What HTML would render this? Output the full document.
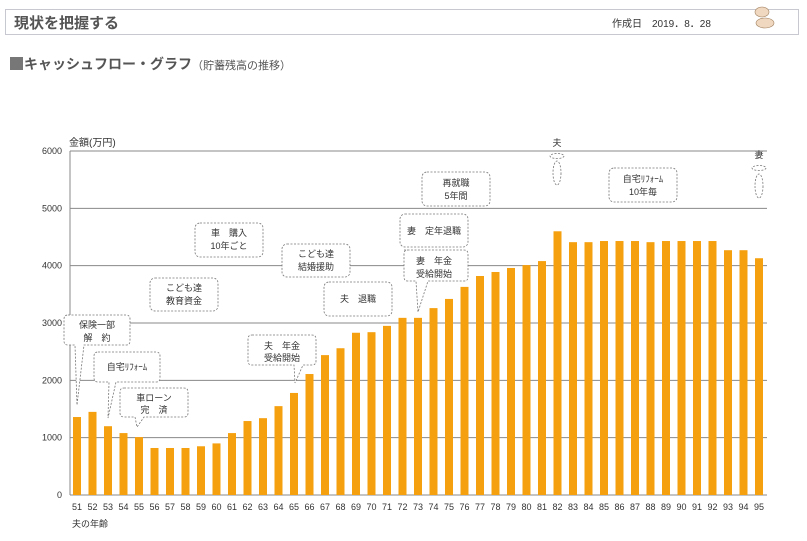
<!DOCTYPE html>
<html><head><meta charset="utf-8"><style>
body{margin:0;background:#fff;width:807px;height:536px;overflow:hidden;font-family:"Liberation Sans","Noto Sans CJK JP",sans-serif}
</style></head><body>
<svg id="s" width="807" height="536" xmlns="http://www.w3.org/2000/svg" font-family="Liberation Sans, Noto Sans CJK JP, sans-serif">
<rect x="5.5" y="9.5" width="793" height="25" fill="#fff" stroke="#c8c8d0"/>
<text x="14" y="28" font-size="15" font-weight="bold" fill="#555">現状を把握する</text>
<text x="612" y="27" font-size="10" fill="#333">作成日　2019．8．28</text>
<g fill="#f0d8c0" stroke="#a08060" stroke-width="0.6"><ellipse cx="762" cy="12" rx="7" ry="5"/><ellipse cx="765" cy="23" rx="9" ry="5"/></g>
<rect x="10" y="57" width="13" height="13" fill="#777"/>
<text x="24" y="69" font-size="14" font-weight="bold" fill="#555">キャッシュフロー・グラフ<tspan font-size="11" font-weight="normal">（貯蓄残高の推移）</tspan></text>
<text x="69" y="146" font-size="10" fill="#333">金額(万円)</text>
<g id="grid" stroke="#888" stroke-width="1"></g>
<g id="bars" fill="#f5a00f"></g>
<g id="lab" font-size="9" fill="#333"></g>
<text x="72" y="527" font-size="9" fill="#333">夫の年齢</text>
<g fill="#fff" stroke="#777" stroke-dasharray="2,1.5" stroke-width="0.8">
<path d="M68,315 h58 q4,0 4,4 v22 q0,4 -4,4 h-42 l-7,60 l-2,-60 h-7 q-4,0 -4,-4 v-22 q0,-4 4,-4z"/>
<path d="M98,352 h58 q4,0 4,4 v22 q0,4 -4,4 h-40 l-8,36 l1,-36 h-11 q-4,0 -4,-4 v-22 q0,-4 4,-4z"/>
<path d="M124,388 h60 q4,0 4,4 v21 q0,4 -4,4 h-40 l-7,10 l-2,-10 h-11 q-4,0 -4,-4 v-21 q0,-4 4,-4z"/>
<rect x="150" y="278" width="68" height="33" rx="5"/>
<rect x="195" y="223" width="68" height="34" rx="5"/>
<rect x="282" y="244" width="68" height="33" rx="5"/>
<path d="M252,335 h60 q4,0 4,4 v22 q0,4 -4,4 h-9 l-8,18 l-1,-18 h-42 q-4,0 -4,-4 v-22 q0,-4 4,-4z"/>
<rect x="324" y="282" width="68" height="34" rx="5"/>
<rect x="422" y="172" width="68" height="34" rx="5"/>
<rect x="400" y="214" width="68" height="33" rx="5"/>
<path d="M404,250 h60 q4,0 4,4 v23 q0,4 -4,4 h-36 l-10,31 l-2,-31 h-8 q-4,0 -4,-4 v-23 q0,-4 4,-4z"/>
<rect x="609" y="168" width="68" height="34" rx="5"/>
<ellipse cx="557" cy="156" rx="7" ry="2.5"/><ellipse cx="557" cy="173" rx="4" ry="12"/>
<ellipse cx="759" cy="168" rx="7" ry="2.5"/><ellipse cx="759" cy="186" rx="4" ry="12"/>
</g>
<g font-size="9" fill="#333" text-anchor="middle">
<text x="97" y="328">保険一部</text><text x="97" y="341">解　約</text>
<text x="127" y="370">自宅ﾘﾌｫｰﾑ</text>
<text x="154" y="401">車ローン</text><text x="154" y="413">完　済</text>
<text x="184" y="291">こども達</text><text x="184" y="304">教育資金</text>
<text x="229" y="236">車　購入</text><text x="229" y="249">10年ごと</text>
<text x="316" y="257">こども達</text><text x="316" y="270">結婚援助</text>
<text x="282" y="349">夫　年金</text><text x="282" y="361">受給開始</text>
<text x="358" y="302">夫　退職</text>
<text x="456" y="186">再就職</text><text x="456" y="199">5年間</text>
<text x="434" y="234">妻　定年退職</text>
<text x="434" y="264">妻　年金</text><text x="434" y="277">受給開始</text>
<text x="643" y="182">自宅ﾘﾌｫｰﾑ</text><text x="643" y="195">10年毎</text>
<text x="557" y="146">夫</text><text x="759" y="158">妻</text>
</g>
</svg>
<script>
var ns="http://www.w3.org/2000/svg";
function el(p,t,a,txt){var e=document.createElementNS(ns,t);for(var k in a)e.setAttribute(k,a[k]);if(txt!==undefined)e.textContent=txt;document.getElementById(p).appendChild(e);}
var y0=495,k=57.33;
for(var i=0;i<=6;i++){var y=y0-i*k;el('grid','line',{x1:70,x2:767,y1:y,y2:y});el('lab','text',{x:62,y:y+3,'text-anchor':'end'},String(i*1000));}
el('grid','line',{x1:70,x2:70,y1:151,y2:495});
var v=[1360,1450,1200,1080,1010,820,820,820,850,900,1080,1290,1340,1550,1780,2110,2440,2560,2830,2840,2950,3090,3090,3260,3420,3630,3820,3890,3960,4010,4080,4600,4410,4410,4430,4430,4430,4410,4430,4430,4430,4430,4270,4270,4130];
for(var j=0;j<45;j++){var cx=77+j*15.5;var h=v[j]/1000*k;el('bars','rect',{x:cx-4,y:y0-h,width:8,height:h});el('lab','text',{x:cx,y:510,'text-anchor':'middle'},String(51+j));}
</script>
</body></html>
